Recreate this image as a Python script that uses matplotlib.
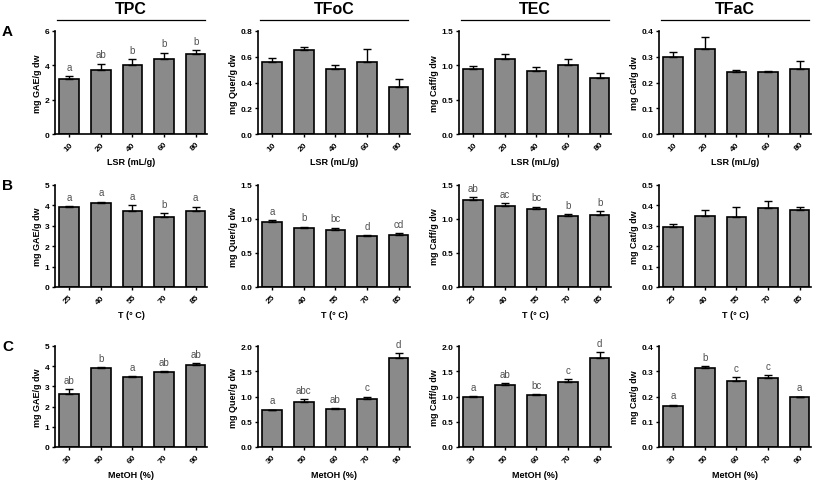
import numpy as np
import matplotlib
matplotlib.use("Agg")
import matplotlib.pyplot as plt

plt.rcParams.update({"font.family": ["Liberation Sans", "DejaVu Sans"], "font.size": 6})

# x categories for each row
LSR = ["10", "20", "40", "60", "80"]
TEMP = ["25", "40", "55", "70", "85"]
METOH = ["30", "50", "60", "70", "90"]

ROW_XLABELS = ["LSR (mL/g)", "T (° C)", "MetOH (%)"]
ROW_LETTERS = ["A", "B", "C"]
COL_TITLES = ["TPC", "TFoC", "TEC", "TFaC"]
YLABELS = ["mg GAE/g dw", "mg Quer/g dw", "mg Caff/g dw", "mg Cat/g dw"]

# row A (LSR)
tpc_a = [3.19, 3.73, 4.02, 4.39, 4.68]
tpc_a_sd = [0.16, 0.37, 0.33, 0.35, 0.23]
tpc_a_lbl = ["a", "ab", "b", "b", "b"]
tfoc_a = [0.563, 0.653, 0.502, 0.563, 0.366]
tfoc_a_sd = [0.031, 0.023, 0.032, 0.095, 0.065]
tec_a = [0.943, 1.085, 0.913, 1.0, 0.82]
tec_a_sd = [0.044, 0.073, 0.064, 0.085, 0.074]
tfac_a = [0.299, 0.329, 0.240, 0.240, 0.253]
tfac_a_sd = [0.019, 0.048, 0.009, 0.003, 0.030]

# row B (temperature)
tpc_b = [3.91, 4.12, 3.71, 3.42, 3.71]
tpc_b_sd = [0.05, 0.07, 0.31, 0.20, 0.23]
tpc_b_lbl = ["a", "a", "a", "b", "a"]
tfoc_b = [0.953, 0.874, 0.845, 0.757, 0.767]
tfoc_b_sd = [0.029, 0.015, 0.029, 0.010, 0.029]
tfoc_b_lbl = ["a", "b", "bc", "d", "cd"]
tec_b = [1.28, 1.197, 1.148, 1.05, 1.06]
tec_b_sd = [0.039, 0.039, 0.034, 0.025, 0.059]
tec_b_lbl = ["ab", "ac", "bc", "b", "b"]
tfac_b = [0.293, 0.347, 0.344, 0.388, 0.379]
tfac_b_sd = [0.016, 0.031, 0.047, 0.032, 0.012]

# row C (methanol)
tpc_c = [2.61, 3.92, 3.46, 3.69, 4.05]
tpc_c_sd = [0.26, 0.02, 0.06, 0.05, 0.11]
tpc_c_lbl = ["ab", "b", "a", "ab", "ab"]
tfoc_c = [0.733, 0.89, 0.746, 0.957, 1.756]
tfoc_c_sd = [0.007, 0.054, 0.020, 0.040, 0.104]
tfoc_c_lbl = ["a", "abc", "ab", "c", "d"]
tec_c = [0.997, 1.22, 1.036, 1.287, 1.77]
tec_c_sd = [0.005, 0.04, 0.005, 0.066, 0.11]
tec_c_lbl = ["a", "ab", "bc", "c", "d"]
tfac_c = [0.163, 0.314, 0.261, 0.274, 0.198]
tfac_c_sd = [0.005, 0.006, 0.015, 0.012, 0.002]
tfac_c_lbl = ["a", "b", "c", "c", "a"]

ROW_CATS = [LSR, TEMP, METOH]
PANELS = [
    [(tpc_a, tpc_a_sd, tpc_a_lbl, 6, 2), (tfoc_a, tfoc_a_sd, None, 0.8, 0.2),
     (tec_a, tec_a_sd, None, 1.5, 0.5), (tfac_a, tfac_a_sd, None, 0.4, 0.1)],
    [(tpc_b, tpc_b_sd, tpc_b_lbl, 5, 1), (tfoc_b, tfoc_b_sd, tfoc_b_lbl, 1.5, 0.5),
     (tec_b, tec_b_sd, tec_b_lbl, 1.5, 0.5), (tfac_b, tfac_b_sd, None, 0.5, 0.1)],
    [(tpc_c, tpc_c_sd, tpc_c_lbl, 5, 1), (tfoc_c, tfoc_c_sd, tfoc_c_lbl, 2.0, 0.5),
     (tec_c, tec_c_sd, tec_c_lbl, 2.0, 0.5), (tfac_c, tfac_c_sd, tfac_c_lbl, 0.4, 0.1)],
]

W, H = 817, 481
fig = plt.figure(figsize=(W / 100, H / 100), dpi=100)
col_left = [55, 258, 459, 659]
ax_w = 152
row_bt = [(135, 32), (288, 186), (448, 347)]
BAR_C = "#8a8a8a"

for r in range(3):
    bot, top = row_bt[r]
    cats = ROW_CATS[r]
    x = np.arange(len(cats))
    for c in range(4):
        vals, sd, lbl, ymax, step = PANELS[r][c]
        ax = fig.add_axes([col_left[c] / W, 1 - bot / H, ax_w / W, (bot - top) / H])
        ax.bar(x, vals, width=0.62, color=BAR_C, edgecolor="black", linewidth=1.2, zorder=2)
        ax.errorbar(x, vals, yerr=[np.zeros(len(vals)), sd], fmt="none", ecolor="black",
                    elinewidth=1.0, capsize=3, capthick=1.0, zorder=3)
        if lbl:
            for xi, v, s, t in zip(x, vals, sd, lbl):
                ax.annotate(t, (xi, v + s), xytext=(0, 3), textcoords="offset points",
                            ha="center", va="bottom", fontsize=7, color="#505050")
        ax.set_xlim(-0.45, 4.36)
        ax.set_ylim(0, ymax)
        ax.set_yticks(np.round(np.arange(0, ymax + step / 2, step), 2))
        if ymax >= 2 and step >= 1:
            ax.yaxis.set_major_formatter(matplotlib.ticker.FormatStrFormatter("%d"))
        else:
            ax.yaxis.set_major_formatter(matplotlib.ticker.FormatStrFormatter("%.1f"))
        ax.set_xticks(x)
        ax.set_xticklabels(cats, rotation=45, ha="right", rotation_mode="anchor",
                           fontweight="bold", fontsize=6)
        for t in ax.get_yticklabels():
            t.set_fontweight("bold")
        ax.tick_params(axis="both", length=2.5, width=1.0, pad=1.5, labelsize=6)
        ax.tick_params(axis="x", pad=2)
        for s in ["top", "right"]:
            ax.spines[s].set_visible(False)
        for s in ["left", "bottom"]:
            ax.spines[s].set_linewidth(1.2)
        ax.set_ylabel(YLABELS[c], fontweight="bold", fontsize=6.5, labelpad=2)
        ax.set_xlabel(ROW_XLABELS[r], fontweight="bold", fontsize=6.5, labelpad=4)
        if r == 0:
            x0, x1 = (col_left[c] + 2) / W, (col_left[c] + ax_w - 2) / W
            fig.add_artist(plt.Line2D([x0, x1], [1 - 21 / H, 1 - 21 / H], color="black", lw=0.9))
            fig.text((x0 + x1) / 2, 1 - 10 / H, COL_TITLES[c], ha="center", va="center",
                     fontsize=11.5, fontweight="bold")
    fig.text(2 / W, 1 - (top + 0) / H, ROW_LETTERS[r], ha="left", va="center",
             fontsize=11, fontweight="bold")

fig.savefig("out.png", dpi=100)
